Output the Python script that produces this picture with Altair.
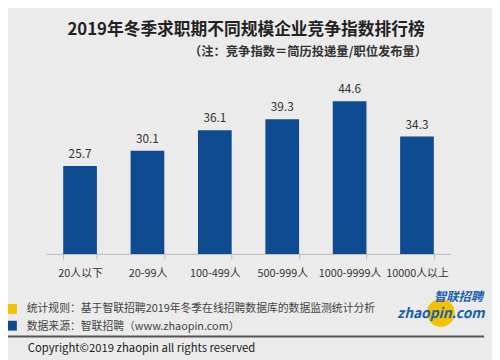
import altair as alt
import pandas as pd

categories = ["20人以下", "20-99人", "100-499人", "500-999人", "1000-9999人", "10000人以上"]
values = [25.7, 30.1, 36.1, 39.3, 44.6, 34.3]

title_text = "2019年冬季求职期不同规模企业竞争指数排行榜"
subtitle_text = "（注：竞争指数＝简历投递量/职位发布量）"
note1 = "统计规则：基于智联招聘2019年冬季在线招聘数据库的数据监测统计分析"
note2 = "数据来源：智联招聘（www.zhaopin.com）"
copyright_text = "Copyright©2019 zhaopin all rights reserved"

df = pd.DataFrame({"cat": categories, "val": values})
FONT = "Noto Sans CJK SC"

x_enc = alt.X("cat:N", sort=categories, title=None,
              scale=alt.Scale(paddingInner=0.5, paddingOuter=0.25),
              axis=alt.Axis(labelAngle=0, labelFontSize=11, labelColor="#333",
                            labelFont=FONT, domainColor="#bbb", tickColor="#bbb",
                            tickSize=5, tickBand="extent", labelPadding=9))
y_enc = alt.Y("val:Q", scale=alt.Scale(domain=[0, 50]), axis=None)

bars = alt.Chart(df).mark_bar(color="#0f4b91").encode(x=x_enc, y=y_enc)
labels = alt.Chart(df).mark_text(dy=-12, fontSize=12, color="#333", font=FONT).encode(
    x=x_enc, y=y_enc, text=alt.Text("val:Q", format=".1f"))

one = pd.DataFrame({"a": [0]})

def txt(text, x, y, size=12, color="#444", weight="normal", align="left", style="normal"):
    return alt.Chart(one).mark_text(text=text, fontSize=size, color=color, fontWeight=weight,
                                     align=align, baseline="middle", font=FONT,
                                     fontStyle=style).encode(x=alt.value(x), y=alt.value(y))

title = txt(title_text, 203, -53, size=17, color="#222", weight="bold", align="center")
subtitle = txt(subtitle_text, 266, -31, size=12.5, color="#333", weight="bold", align="center")

sq1 = alt.Chart(one).mark_rect(color="#f2c200").encode(
    x=alt.value(-40), x2=alt.value(-30), y=alt.value(225), y2=alt.value(235))
sq2 = alt.Chart(one).mark_rect(color="#0f4b91").encode(
    x=alt.value(-40), x2=alt.value(-30), y=alt.value(242), y2=alt.value(252))
t1 = txt(note1, -20, 230, size=11, color="#444")
t2 = txt(note2, -20, 248, size=11, color="#444")
rule = alt.Chart(one).mark_rule(color="#555", strokeWidth=2).encode(
    x=alt.value(-39), x2=alt.value(445), y=alt.value(258))
t3 = txt(copyright_text, -19, 271, size=11.5, color="#222")

circle = alt.Chart(one).mark_circle(color="#f2c200", opacity=1, size=800).encode(
    x=alt.value(401), y=alt.value(234))
logo1 = txt("智联招聘", 419, 218, size=12.5, color="#1b5fae", weight="bold", align="center", style="italic")
logo2 = txt("zhaopin.com", 401, 235, size=14, color="#1b5fae", weight="bold", align="center", style="italic")

chart = alt.layer(bars, labels, title, subtitle, sq1, sq2, t1, t2, rule, t3,
                  circle, logo1, logo2).properties(
    width=411, height=174,
    padding={"left": 39, "top": 73, "right": 42, "bottom": 110},
    autosize=alt.AutoSizeParams(type="none"),
    background="#ebebeb",
).configure_view(stroke=None)

chart.save("out.html", embed_options={"renderer": "svg", "actions": False})
